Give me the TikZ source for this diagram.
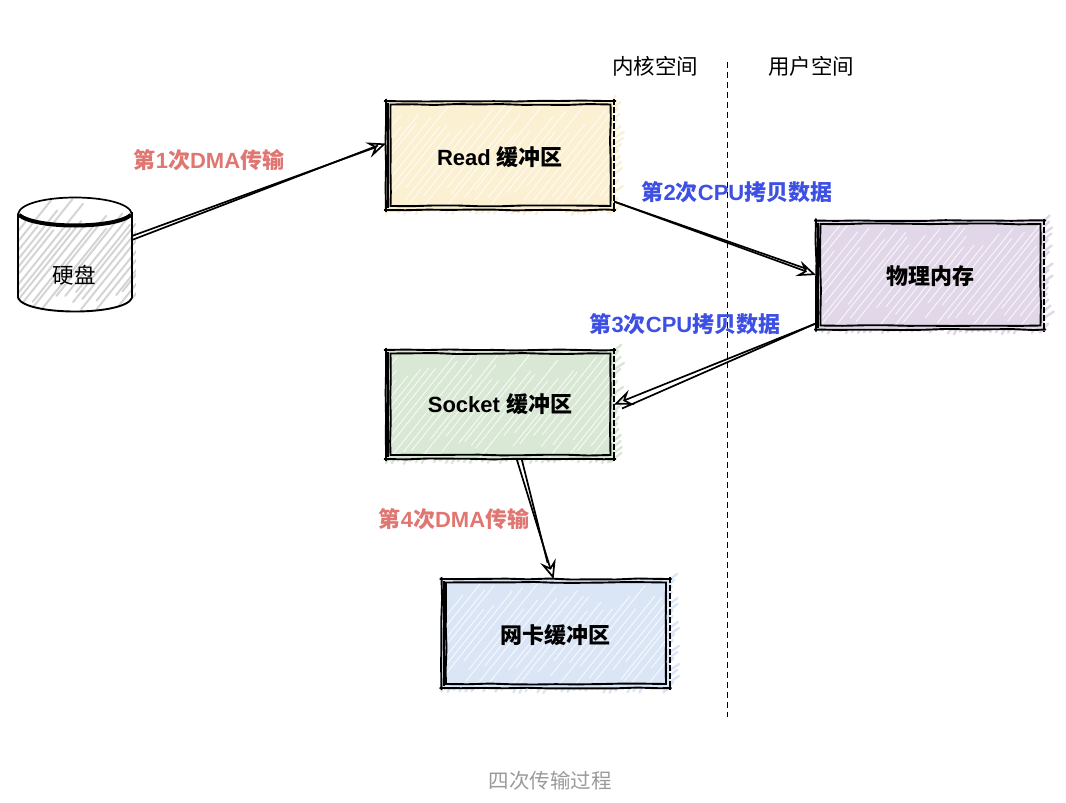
\documentclass[tikz,border=0pt]{standalone}
\usepackage{fontspec}
\setmainfont{Liberation Sans}
\newfontfamily\cjk{Noto Sans CJK SC}
\usetikzlibrary{calc, arrows.meta, decorations.pathmorphing}

\newcommand{\zh}[1]{{\cjk #1}}

\definecolor{dmared}{HTML}{DF7672}
\definecolor{cpublue}{HTML}{3D50E3}
\definecolor{captiongray}{HTML}{9A9A9A}
\definecolor{readfill}{HTML}{FBF0D2}
\definecolor{memfill}{HTML}{E1D7E8}
\definecolor{socketfill}{HTML}{D9E7D5}
\definecolor{nicfill}{HTML}{DAE5F6}

\tikzset{
    rough/.style={decorate, decoration={random steps, segment length=22pt, amplitude=.55pt}},
    outerline/.style={draw=black, line width=1.9pt, rough},
    innerline/.style={draw=black, line width=1.9pt, rough},
    streak/.style={line width=#1, line cap=round},
    sketchbox/.style={rectangle, inner sep=0pt, outer sep=0pt, minimum width=228pt, minimum height=109pt, font=\fontsize{22}{26}\selectfont\bfseries},
    linkline/.style={line width=1.7pt},
    linkarrow/.style={line width=1.7pt, -{Stealth[open, length=19pt, width=16pt, inset=7pt, line width=1.7pt]}},
    dmalabel/.style={text=dmared, font=\fontsize{22}{26}\selectfont\bfseries},
    cpulabel/.style={text=cpublue, font=\fontsize{22}{26}\selectfont\bfseries},
    spacelabel/.style={font=\fontsize{21.5}{26}\selectfont}
}

\newcommand{\hatchstrokes}[6]{
    \pgfmathtruncatemacro{\nstrokes}{((#3)-(#1)+.8*((#4)-(#2)))/#6}
    \foreach \k in {0,...,\nstrokes} {
        \pgfmathsetmacro{\sx}{(#1)-.8*((#4)-(#2))+\k*#6+rnd*4}
        \pgfmathsetmacro{\ta}{rnd*.25}
        \pgfmathsetmacro{\tb}{.7+rnd*.3}
        \draw[#5] ({\sx+\ta*.8*((#4)-(#2))},{(#4)-\ta*((#4)-(#2))}) -- ({\sx+\tb*.8*((#4)-(#2))},{(#4)-\tb*((#4)-(#2))});
    }
}

\newcommand{\sketchnode}[5]{
    \pgfmathsetmacro{\xa}{#2-114}
    \pgfmathsetmacro{\xb}{#2+114}
    \pgfmathsetmacro{\ya}{#3-54.5}
    \pgfmathsetmacro{\yb}{#3+54.5}
    % colour running past the right and bottom edges
    \foreach \k in {0,...,18} {
        \draw[streak=2.4pt, draw=#4] (\xb-4,{\ya+\k*6+4}) -- ({\xb+1+rnd*9},{\ya+\k*6-5});
    }
    \foreach \k in {0,...,37} {
        \draw[streak=2.4pt, draw=#4] ({\xa+\k*6},{\yb+rnd*5}) -- ({\xa+\k*6+5},\yb-5);
    }
    \fill[#4] (\xa,\ya) rectangle (\xb,\yb);
    \begin{scope}
        \clip (\xa,\ya) rectangle (\xb,\yb);
        \hatchstrokes{\xa}{\ya}{\xb}{\yb}{streak=.9pt, draw=white, opacity=.8}{8}
    \end{scope}
    \node[sketchbox] (#1) at (#2,#3) {#5};
    \draw[outerline] ($(#1.north west)+(-2,0)$) -- ($(#1.north east)+(2,0)$);
    \draw[outerline] ($(#1.south west)+(-2,0)$) -- ($(#1.south east)+(2,0)$);
    \draw[outerline] ($(#1.north west)+(0,-2)$) -- ($(#1.south west)+(0,2)$);
    \draw[draw=black, line width=2pt, dash pattern=on 6pt off 2pt] ($(#1.north east)+(0,-2)$) -- ($(#1.south east)+(0,2)$);
    \draw[innerline] ($(#1.north west)+(4.5,3.5)$) rectangle ($(#1.south east)+(-3.5,-4)$);
    \draw[line width=2.4pt] ($(#1.north west)+(2.2,2)$) -- ($(#1.south west)+(2.2,-2)$);
}

\begin{document}
\begin{tikzpicture}[x=1pt, y=-1pt]
    \useasboundingbox (0,0) rectangle (1066,803);
    \pgfmathsetseed{11}

    \coordinate (divtop) at (727.5,62);
    \coordinate (divbot) at (727.5,717);
    \draw[line width=1.4pt, dash pattern=on 5.5pt off 4.5pt] (divtop) -- (divbot);

    \node[spacelabel] (kernel) at (655,66) {\zh{内核空间}};
    \node[spacelabel] (user) at (811,66) {\zh{用户空间}};

    % the disk
    \begin{scope}
        \clip (18,214) .. controls (22,192) and (128,192) .. (132,214) -- (136,214) -- (136,298) -- (132,298) .. controls (124,316) and (26,316) .. (18,298) -- cycle;
        \hatchstrokes{16}{197}{136}{316}{streak=2pt, draw=black!17}{7}
    \end{scope}
    \draw[line width=1.7pt] (18,214) .. controls (22,192) and (128,192) .. (132,214);
    \draw[line width=2pt] (18,214) -- (18,298);
    \draw[line width=2pt] (132,212) -- (132,298);
    \draw[line width=1.9pt] (18,298) .. controls (26,316) and (124,316) .. (132,298);
    \draw[line width=4pt] (19,215) .. controls (36,229) and (114,229) .. (131,215);
    \node[rectangle, inner sep=0pt, outer sep=0pt, minimum width=114pt, minimum height=111pt] (disk) at (75,254.5) {};
    \node[font=\fontsize{21.5}{26}\selectfont] (disktext) at (74,275) {\zh{硬盘}};

    \sketchnode{read}{500}{155.5}{readfill}{\rule{0pt}{23pt}Read \zh{缓冲区}}
    \sketchnode{mem}{930}{275}{memfill}{\rule{0pt}{21pt}\zh{物理内存}}
    \sketchnode{socket}{500}{404.5}{socketfill}{Socket \zh{缓冲区}}
    \sketchnode{nic}{555.5}{633.5}{nicfill}{\rule{0pt}{23pt}\zh{网卡缓冲区}}

    \draw[linkarrow] (disk.18) -- (read.174);
    \draw[linkline] ($(disk.18)+(0,4)$) -- ($(read.174)+(-8,2)$);

    \draw[linkarrow] (read.338) -- (mem.west);
    \draw[linkline] (read.338) -- ($(mem.west)+(-9,-6)$);

    \draw[linkarrow] (mem.203) -- (socket.east);
    \draw[linkline] (mem.203) -- ($(socket.east)+(8,4)$);

    \draw[linkarrow] (socket.287) -- (nic.92);
    \draw[linkline] ($(socket.287)+(5,0)$) -- ($(nic.92)+(-6,-16)$);

    \node[dmalabel] (first) at (209,160) {\zh{第}1\zh{次}DMA\zh{传输}};
    \node[cpulabel] (second) at (737,192) {\zh{第}2\zh{次}CPU\zh{拷贝数据}};
    \node[cpulabel] (third) at (685,324) {\zh{第}3\zh{次}CPU\zh{拷贝数据}};
    \node[dmalabel] (fourth) at (454,519) {\zh{第}4\zh{次}DMA\zh{传输}};

    \node[text=captiongray, font=\fontsize{20.5}{24}\selectfont] (caption) at (550,781) {\zh{四次传输过程}};
\end{tikzpicture}
\end{document}
